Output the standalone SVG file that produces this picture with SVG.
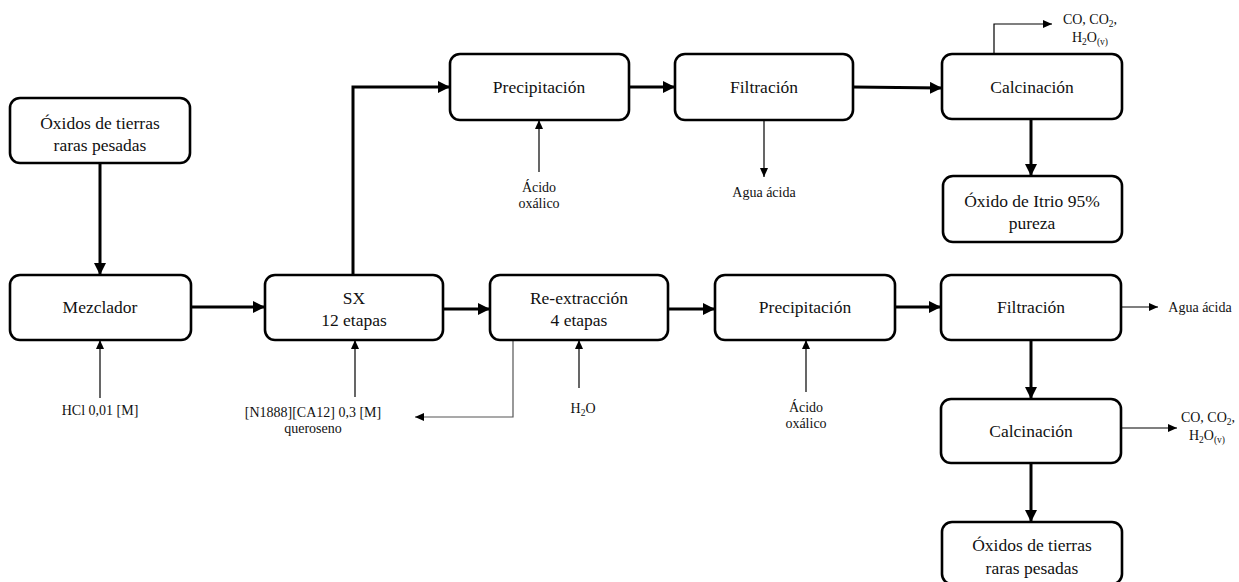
<svg xmlns="http://www.w3.org/2000/svg" width="1239" height="582" viewBox="0 0 1239 582">
  <defs>
    <style>
      .box { fill: #ffffff; stroke: #000000; stroke-width: 2.6; }
      .lbl { font-family: "Liberation Serif", "Times New Roman", serif; font-size: 17.5px; fill: #111; text-anchor: middle; }
      .sm { font-family: "Liberation Serif", "Times New Roman", serif; font-size: 14px; fill: #111; text-anchor: middle; }
      .thick { fill: none; stroke: #000; stroke-width: 3; marker-end: url(#headBig); }
      .thin { fill: none; stroke: #000; stroke-width: 1.2; marker-end: url(#headSmall); }
      .grey { fill: none; stroke: #555; stroke-width: 1.2; marker-end: url(#headSmall); }
    </style>
    <marker id="headBig" markerUnits="userSpaceOnUse" markerWidth="13" markerHeight="12" refX="12" refY="6" orient="auto">
      <path d="M0,0 L12,6 L0,12 Z" fill="#000"/>
    </marker>
    <marker id="headSmall" markerUnits="userSpaceOnUse" markerWidth="10" markerHeight="8" refX="9" refY="4" orient="auto">
      <path d="M0,0 L9,4 L0,8 Z" fill="#000"/>
    </marker>
  </defs>

  <rect width="1239" height="582" fill="#ffffff"/>

  <!-- process flow and side streams -->
  <g id="connectors">
    <path class="thick" d="M100,163 V275"/>
    <path class="thick" d="M191,307 H265"/>
    <path class="thick" d="M443,309 H490"/>
    <path class="thick" d="M668,309 H715"/>
    <path class="thick" d="M895,307 H941"/>
    <path class="thick" d="M353,276 V87 H450"/>
    <path class="thick" d="M629,87 H675"/>
    <path class="thick" d="M853,87 L942,88"/>
    <path class="thick" d="M1031,120 V176"/>
    <path class="thick" d="M1031,340 V399"/>
    <path class="thick" d="M1031,463 V522"/>

    <path class="thin" d="M100,398 V340"/>
    <path class="thin" d="M355,397 V340"/>
    <path class="grey" d="M513,340 V417 H415"/>
    <path class="thin" d="M579,388 V340"/>
    <path class="thin" d="M539,172 V120"/>
    <path class="thin" d="M764,120 V177"/>
    <path class="thin" d="M994,54 V24 H1052"/>
    <path class="thin" d="M806,392 V340"/>
    <path class="thin" d="M1121,307 H1158"/>
    <path class="thin" d="M1121,428 H1177"/>
  </g>

  <!-- feed and product nodes -->
  <g id="n-oxidos-entrada">
    <rect class="box" x="10" y="98" width="180" height="65" rx="10"/>
    <text class="lbl" x="100" y="129">Óxidos de tierras</text>
    <text class="lbl" x="100" y="151">raras pesadas</text>
  </g>
  <g id="n-mezclador">
    <rect class="box" x="10" y="275" width="181" height="65" rx="10"/>
    <text class="lbl" x="100" y="313">Mezclador</text>
  </g>
  <g id="n-sx">
    <rect class="box" x="265" y="275" width="178" height="65" rx="10"/>
    <text class="lbl" x="354" y="304">SX</text>
    <text class="lbl" x="354" y="326">12 etapas</text>
  </g>
  <g id="n-reextraccion">
    <rect class="box" x="490" y="275" width="178" height="65" rx="10"/>
    <text class="lbl" x="579" y="304">Re-extracción</text>
    <text class="lbl" x="579" y="326">4 etapas</text>
  </g>
  <g id="n-precipitacion-2">
    <rect class="box" x="715" y="275" width="180" height="65" rx="10"/>
    <text class="lbl" x="805" y="313">Precipitación</text>
  </g>
  <g id="n-filtracion-2">
    <rect class="box" x="941" y="275" width="180" height="65" rx="10"/>
    <text class="lbl" x="1031" y="313">Filtración</text>
  </g>
  <g id="n-calcinacion-2">
    <rect class="box" x="941" y="399" width="180" height="64" rx="10"/>
    <text class="lbl" x="1031" y="437">Calcinación</text>
  </g>
  <g id="n-oxidos-salida">
    <rect class="box" x="942" y="522" width="180" height="62" rx="10"/>
    <text class="lbl" x="1032" y="551">Óxidos de tierras</text>
    <text class="lbl" x="1032" y="574">raras pesadas</text>
  </g>
  <g id="n-precipitacion-1">
    <rect class="box" x="450" y="54" width="179" height="66" rx="10"/>
    <text class="lbl" x="539" y="93">Precipitación</text>
  </g>
  <g id="n-filtracion-1">
    <rect class="box" x="675" y="54" width="178" height="66" rx="10"/>
    <text class="lbl" x="764" y="93">Filtración</text>
  </g>
  <g id="n-calcinacion-1">
    <rect class="box" x="942" y="54" width="180" height="65" rx="10"/>
    <text class="lbl" x="1032" y="93">Calcinación</text>
  </g>
  <g id="n-itrio">
    <rect class="box" x="943" y="176" width="179" height="66" rx="10"/>
    <text class="lbl" x="1032" y="207">Óxido de Itrio 95%</text>
    <text class="lbl" x="1032" y="229">pureza</text>
  </g>

  <!-- stream labels -->
  <g id="labels">
    <text class="sm" x="100" y="415">HCl 0,01 [M]</text>
    <text class="sm" x="313" y="417">[N1888][CA12] 0,3 [M]</text>
    <text class="sm" x="313" y="433" font-size="13">queroseno</text>
    <text class="sm" x="583" y="413">H<tspan font-size="9.5" dy="3">2</tspan><tspan dy="-3">O</tspan></text>
    <text class="sm" x="539" y="192">Ácido</text>
    <text class="sm" x="539" y="208">oxálico</text>
    <text class="sm" x="764" y="197">Agua ácida</text>
    <text class="sm" x="806" y="412">Ácido</text>
    <text class="sm" x="806" y="428">oxálico</text>
    <text class="sm" x="1200" y="312">Agua ácida</text>
    <text class="sm" x="1090" y="24">CO, CO<tspan font-size="9.5" dy="3">2</tspan><tspan dy="-3">,</tspan></text>
    <text class="sm" x="1090" y="42">H<tspan font-size="9.5" dy="3">2</tspan><tspan dy="-3">O</tspan><tspan font-size="9.5" dy="3">(v)</tspan></text>
    <text class="sm" x="1208" y="422">CO, CO<tspan font-size="9.5" dy="3">2</tspan><tspan dy="-3">,</tspan></text>
    <text class="sm" x="1207" y="440">H<tspan font-size="9.5" dy="3">2</tspan><tspan dy="-3">O</tspan><tspan font-size="9.5" dy="3">(v)</tspan></text>
  </g>
</svg>
